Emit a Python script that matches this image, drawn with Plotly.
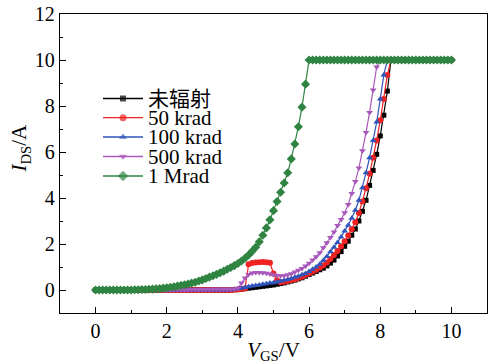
import plotly.graph_objects as go

# Gate voltage sweep (V), 0.0 .. 10.0 in 0.1 V steps
vgs = [round(i * 0.1, 1) for i in range(101)]

series_names = ["未辐射", "50 krad", "100 krad", "500 krad", "1 Mrad"]

ids_unirradiated = [
    0.0, 0.0, 0.0, 0.0, 0.0, 0.0, 0.0, 0.0, 0.0, 0.0,
    0.0, 0.0, 0.0, 0.0, 0.0, 0.0, 0.0, 0.0, 0.0, 0.0,
    0.0, 0.0, 0.0, 0.0, 0.0, 0.0, 0.0, 0.0, 0.0, 0.0,
    0.0, 0.0, 0.0, 0.0, 0.0, 0.0, 0.0, 0.0, 0.0, 0.01,
    0.02, 0.04, 0.06, 0.08, 0.10, 0.12, 0.14, 0.16, 0.18, 0.20,
    0.22, 0.25, 0.28, 0.31, 0.35, 0.39, 0.43, 0.48, 0.53, 0.60,
    0.67, 0.74, 0.81, 0.88, 0.95, 1.05, 1.17, 1.30, 1.48, 1.67,
    1.90, 2.12, 2.38, 2.65, 3.00, 3.42, 3.90, 4.55, 5.20, 5.90,
    6.70, 7.60, 8.65, 10.0, 10.0, 10.0, 10.0, 10.0, 10.0, 10.0,
    10.0, 10.0, 10.0, 10.0, 10.0, 10.0, 10.0, 10.0, 10.0, 10.0,
    10.0,
]

ids_50krad = [
    0.0, 0.0, 0.0, 0.0, 0.0, 0.0, 0.0, 0.0, 0.0, 0.0,
    0.0, 0.0, 0.0, 0.0, 0.0, 0.0, 0.0, 0.0, 0.0, 0.0,
    0.0, 0.0, 0.0, 0.0, 0.0, 0.0, 0.0, 0.0, 0.0, 0.0,
    0.0, 0.0, 0.0, 0.0, 0.0, 0.0, 0.0, 0.0, 0.0, 0.01,
    0.02, 0.04, 0.07, 1.12, 1.17, 1.20, 1.21, 1.22, 1.21, 1.19,
    0.72, 0.42, 0.34, 0.36, 0.39, 0.43, 0.47, 0.52, 0.58, 0.65,
    0.72, 0.80, 0.88, 0.97, 1.07, 1.20, 1.35, 1.52, 1.70, 1.90,
    2.12, 2.37, 2.64, 2.95, 3.35, 3.85, 4.42, 5.05, 5.75, 6.50,
    7.38, 8.30, 9.35, 10.0, 10.0, 10.0, 10.0, 10.0, 10.0, 10.0,
    10.0, 10.0, 10.0, 10.0, 10.0, 10.0, 10.0, 10.0, 10.0, 10.0,
    10.0,
]

ids_100krad = [
    0.0, 0.0, 0.0, 0.0, 0.0, 0.0, 0.0, 0.0, 0.0, 0.0,
    0.0, 0.0, 0.0, 0.0, 0.0, 0.0, 0.0, 0.0, 0.0, 0.0,
    0.0, 0.0, 0.0, 0.0, 0.0, 0.0, 0.0, 0.0, 0.0, 0.0,
    0.0, 0.0, 0.0, 0.0, 0.0, 0.0, 0.0, 0.0, 0.01, 0.02,
    0.05, 0.08, 0.11, 0.14, 0.17, 0.20, 0.22, 0.25, 0.27, 0.30,
    0.32, 0.35, 0.38, 0.42, 0.46, 0.50, 0.55, 0.60, 0.66, 0.72,
    0.80, 0.90, 1.00, 1.12, 1.28, 1.46, 1.66, 1.86, 2.07, 2.30,
    2.56, 2.82, 3.12, 3.47, 3.90, 4.45, 5.10, 5.75, 6.50, 7.30,
    8.30, 9.35, 10.0, 10.0, 10.0, 10.0, 10.0, 10.0, 10.0, 10.0,
    10.0, 10.0, 10.0, 10.0, 10.0, 10.0, 10.0, 10.0, 10.0, 10.0,
    10.0,
]

ids_500krad = [
    0.0, 0.0, 0.0, 0.0, 0.0, 0.0, 0.0, 0.0, 0.0, 0.0,
    0.0, 0.0, 0.0, 0.0, 0.0, 0.0, 0.0, 0.0, 0.0, 0.0,
    0.0, 0.0, 0.01, 0.01, 0.01, 0.01, 0.01, 0.02, 0.02, 0.02,
    0.02, 0.02, 0.02, 0.03, 0.03, 0.03, 0.03, 0.03, 0.03, 0.04,
    0.08, 0.30, 0.52, 0.67, 0.74, 0.76, 0.76, 0.75, 0.73, 0.70,
    0.66, 0.63, 0.62, 0.62, 0.66, 0.71, 0.78, 0.86, 0.94, 1.04,
    1.16, 1.30, 1.45, 1.62, 1.84, 2.05, 2.28, 2.52, 2.80, 3.06,
    3.36, 3.72, 4.20, 4.72, 5.30, 6.05, 6.85, 7.72, 8.70, 9.70,
    10.0, 10.0, 10.0, 10.0, 10.0, 10.0, 10.0, 10.0, 10.0, 10.0,
    10.0, 10.0, 10.0, 10.0, 10.0, 10.0, 10.0, 10.0, 10.0, 10.0,
    10.0,
]

ids_1mrad = [
    0.0, 0.0, 0.0, 0.0, 0.0, 0.0, 0.0, 0.0, 0.0, 0.0,
    0.0, 0.01, 0.01, 0.02, 0.02, 0.03, 0.04, 0.05, 0.06, 0.08,
    0.10, 0.12, 0.14, 0.17, 0.20, 0.23, 0.26, 0.30, 0.34, 0.39,
    0.44, 0.50, 0.56, 0.62, 0.68, 0.75, 0.82, 0.90, 0.98, 1.06,
    1.15, 1.26, 1.38, 1.52, 1.68, 1.86, 2.10, 2.38, 2.70, 3.05,
    3.45, 3.85, 4.25, 4.65, 5.10, 5.70, 6.35, 7.10, 7.95, 8.95,
    10.0, 10.0, 10.0, 10.0, 10.0, 10.0, 10.0, 10.0, 10.0, 10.0,
    10.0, 10.0, 10.0, 10.0, 10.0, 10.0, 10.0, 10.0, 10.0, 10.0,
    10.0, 10.0, 10.0, 10.0, 10.0, 10.0, 10.0, 10.0, 10.0, 10.0,
    10.0, 10.0, 10.0, 10.0, 10.0, 10.0, 10.0, 10.0, 10.0, 10.0,
    10.0,
]

x_tickvals = [0, 2, 4, 6, 8, 10]
y_tickvals = [0, 2, 4, 6, 8, 10, 12]

all_series = [ids_unirradiated, ids_50krad, ids_100krad, ids_500krad, ids_1mrad]
colors = ["#000000", "#ee2222", "#2f55bb", "#a858bb", "#2f8442"]
symbols = ["square", "circle", "triangle-up", "triangle-down", "diamond"]
sizes = [5, 6, 6, 6, 7]

SERIF = "Liberation Serif, Noto Sans CJK SC, serif"

fig = go.Figure()
for name, ys, c, s, sz in zip(series_names, all_series, colors, symbols, sizes):
    fig.add_trace(go.Scatter(
        x=vgs, y=ys, name=name, mode="lines+markers",
        line=dict(color=c, width=1.2),
        marker=dict(symbol=s, size=sz, color=c, line=dict(width=0)),
        showlegend=False,
    ))

# Hand-built legend on a pixel-scaled overlay axis (compact row spacing)
legend_rows_px = [98.5, 117.7, 137.0, 156.5, 176.0]
legend_line_px = [103, 123, 143]
legend_text_px = 146
for name, c, s, sz, yp in zip(series_names, colors, symbols, sizes, legend_rows_px):
    fig.add_trace(go.Scatter(
        x=legend_line_px, y=[yp, yp, yp], mode="lines+markers",
        xaxis="x2", yaxis="y2", showlegend=False, hoverinfo="skip",
        line=dict(color=c, width=1.3),
        marker=dict(symbol=s, size=[0, sz + 1, 0], color=c, line=dict(width=0)),
    ))
    fig.add_annotation(
        x=legend_text_px, y=yp, xref="x2", yref="y2", text=name,
        showarrow=False, xanchor="left", yanchor="middle",
        font=dict(family=SERIF, size=21, color="black"),
    )

# y-axis title placed as in the reference (slightly above centre)
fig.add_annotation(
    x=-0.094, y=0.553, xref="paper", yref="paper",
    text="<i>I</i><sub>DS</sub>/A", textangle=-90, showarrow=False,
    xanchor="center", yanchor="middle",
    font=dict(family=SERIF, size=21, color="black"),
)

axis_common = dict(
    showline=True, linecolor="black", linewidth=1.3, mirror=True,
    ticks="inside", ticklen=6, tickwidth=1.2, tickcolor="black",
    showgrid=False, zeroline=False, automargin=False,
    tickfont=dict(family=SERIF, size=20, color="black"),
)

fig.update_layout(
    width=493, height=364,
    margin=dict(l=60, r=6, t=14, b=51),
    paper_bgcolor="white", plot_bgcolor="white",
    font=dict(family=SERIF, color="black"),
    xaxis=dict(
        range=[-1, 11], tickvals=x_tickvals,
        minor=dict(dtick=1, ticks="inside", ticklen=3, tickwidth=1.2, tickcolor="black"),
        title=dict(text="<i>V</i><sub>GS</sub>/V", font=dict(family=SERIF, size=21, color="black"), standoff=4),
        **axis_common,
    ),
    yaxis=dict(
        range=[-1, 12], tickvals=y_tickvals,
        minor=dict(dtick=1, ticks="inside", ticklen=3, tickwidth=1.2, tickcolor="black"),
        **axis_common,
    ),
    xaxis2=dict(overlaying="x", range=[60, 487], visible=False, fixedrange=True),
    yaxis2=dict(overlaying="y", range=[313, 14], visible=False, fixedrange=True),
)

fig.write_html(
    "out.html",
    config={"displayModeBar": False},
    post_script="document.body.style.margin='0';document.body.style.padding='0';",
)
